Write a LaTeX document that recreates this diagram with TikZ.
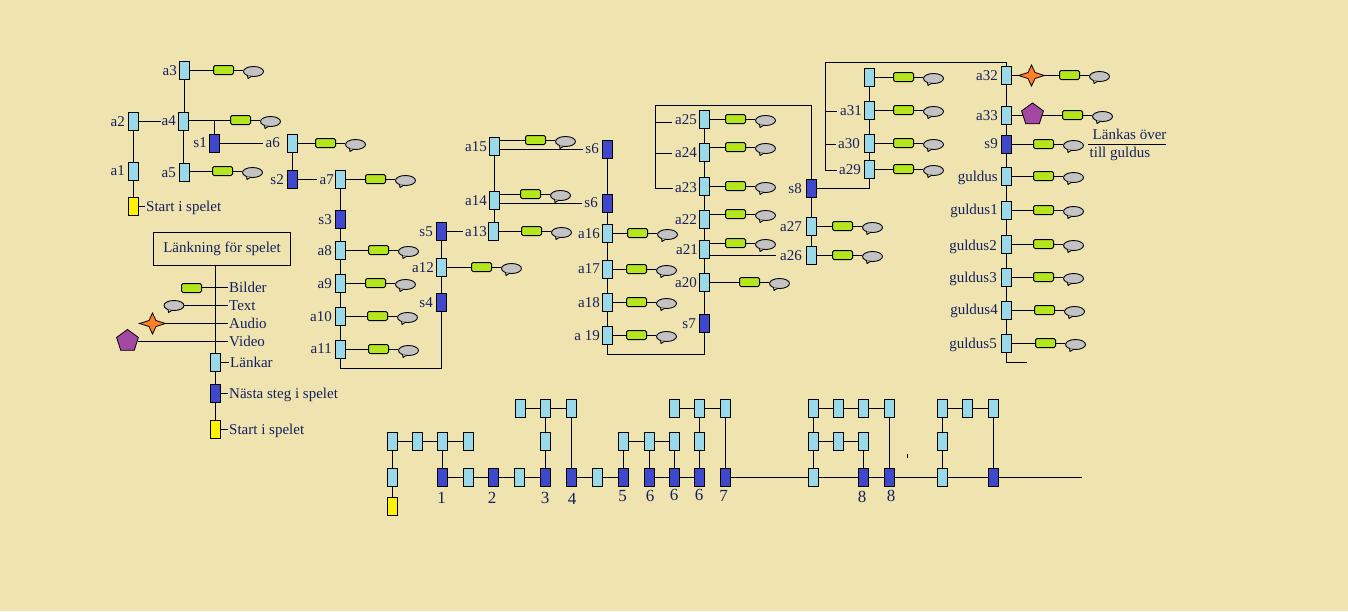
\documentclass[tikz,border=0pt]{standalone}
\usepackage{fontspec}
\setmainfont{Liberation Serif}
\usetikzlibrary{shapes.geometric}
\definecolor{bgc}{HTML}{EFE4B0}
\definecolor{lkc}{HTML}{99D9EA}
\definecolor{stc}{HTML}{3F48CC}
\definecolor{ylc}{HTML}{FFF200}
\definecolor{grc}{HTML}{B5E61D}
\definecolor{buc}{HTML}{C3C3C3}
\definecolor{orc}{HTML}{FF7F27}
\definecolor{puc}{HTML}{A349A4}
\definecolor{txc}{HTML}{14205C}
\tikzset{
  cn/.style={draw=black,line width=1pt},
  lkbase/.style={draw=black,line width=1pt,rectangle,minimum width=10pt,minimum height=18pt,inner sep=0pt},
  lk/.style={lkbase,fill=lkc},
  stb/.style={lkbase,fill=stc},
  ylb/.style={lkbase,fill=ylc},
  grn/.style={draw=black,line width=1pt,rectangle,rounded corners=1.5pt,fill=grc,minimum width=20pt,minimum height=9pt,inner sep=0pt},
  bub/.style={draw=black,line width=.9pt,ellipse,fill=buc,minimum width=20pt,minimum height=10pt,inner sep=0pt},
  bubt/.style={draw=black,line width=.9pt,fill=buc,line join=round},
  lab/.style={anchor=mid east,inner sep=0pt,yshift=-2.5pt,text=txc,font=\fontsize{15}{15}\selectfont},
  labw/.style={anchor=mid west,inner sep=0pt,yshift=-2.5pt,text=txc,font=\fontsize{15}{15}\selectfont},
  numb/.style={anchor=center,inner sep=0pt,text=txc,font=\fontsize{17}{17}\selectfont},
  penta/.style={draw=black,line width=.8pt,regular polygon,regular polygon sides=5,minimum size=23pt,inner sep=0pt,fill=puc},
  starm/.style={draw=black,line width=.8pt,fill=orc},
}
\newcommand\lkn[3]{\node[lk] (#1) at (#2,#3) {};}
\newcommand\stn[3]{\node[stb] (#1) at (#2,#3) {};}
\newcommand\lbl[4]{\node[lab] (l#1) at (#2,#3) {#4};}
\newcommand\bubtail[1]{%
  \path[bubt] ([shift={(-6,3.6)}]#1.center) -- ([shift={(-5.5,7)}]#1.center) -- ([shift={(-2,4.8)}]#1.center);
}
\newcommand\tailgb[3]{%
  \coordinate (#1l) at (#2,#3);
  \node[grn,yshift=.5pt] (#1g) at (#2,#3) {};
  \path (#1l) ++(30,1) node[bub] (#1b) {};
  \bubtail{#1b}
  \draw[cn] (#1g.east |- #1l) -- (#1b.west |- #1l);
  \draw[cn] (#1l -| #1.east) -- (#1g.west |- #1l);
}
\newcommand\starmark[3]{%
  \coordinate (#1) at (#2,#3);
  \draw[starm] (#1) ++(13,0) -- ++(-9.5,-3) -- ++(-3.5,-7.5) -- ++(-3.5,7.5) -- ++(-9.5,3) -- ++(9.5,3) -- ++(3.5,7.5) -- ++(3.5,-7.5) -- cycle;
}
\begin{document}
\begin{tikzpicture}[x=1pt,y=-1pt]
\fill[bgc] (0,0) rectangle (1348,611);
\useasboundingbox (0,0) rectangle (1348,611);

% ---- left tree
\lkn{a3}{184.5}{70.5}\lbl{a3}{177}{70.5}{a3}
\lkn{a4}{183.5}{121.5}\lbl{a4}{176}{121}{a4}
\lkn{a2}{133.5}{121.5}\lbl{a2}{125}{121.5}{a2}
\lkn{a1}{133.5}{171.5}\lbl{a1}{125}{171}{a1}
\node[ylb] (y1) at (133.5,206.5) {};
\node[labw] (ly1) at (146,206.5) {Start i spelet};
\lkn{a5}{184.5}{172.5}\lbl{a5}{176}{172.5}{a5}
\stn{s1}{214.5}{143.5}\lbl{s1}{207}{143}{s1}
\lkn{a6}{292.5}{143.5}\lbl{a6}{280}{142.5}{a6}
\stn{s2}{292.5}{179.5}\lbl{s2}{284}{179.5}{s2}
\lkn{a7}{340.5}{179.5}\lbl{a7}{334}{179.5}{a7}
\stn{s3}{340.5}{219.5}\lbl{s3}{332}{219.5}{s3}
\lkn{a8}{340.5}{250.5}\lbl{a8}{332}{250.5}{a8}
\lkn{a9}{340.5}{283.5}\lbl{a9}{332}{283.5}{a9}
\lkn{a10}{340.5}{316.5}\lbl{a10}{332}{316.5}{a10}
\lkn{a11}{340.5}{349.5}\lbl{a11}{332}{349}{a11}
\stn{s4}{441.5}{302.5}\lbl{s4}{433}{303}{s4}
\lkn{a12}{441.5}{267.5}\lbl{a12}{434}{267.5}{a12}
\stn{s5}{441.5}{231.5}\lbl{s5}{433}{231.5}{s5}
\tailgb{a3}{223.5}{70.5}
\tailgb{a4}{240.5}{120.5}
\tailgb{a5}{222.5}{171.5}
\tailgb{a6}{325.5}{143.5}
\tailgb{a7}{375.5}{179.5}
\tailgb{a8}{378.5}{250.5}
\tailgb{a9}{375.5}{283.5}
\tailgb{a10}{377.5}{316.5}
\tailgb{a11}{378.5}{349.5}
\tailgb{a12}{481.5}{267.5}
\draw[cn] (a3) -- (a3 |- a4.north);
\draw[cn] (a4 |- a4.south) -- (a4 |- a5.north);
\draw[cn] (a2.east) -- (la4.west |- a2.east);
\draw[cn] (a2) -- (a1);
\draw[cn] (a1) -- (y1);
\draw[cn] (y1.east) -- ([xshift=-1pt]ly1.west |- y1.east);
\draw[cn] (s1.north) -- (s1 |- a4l);
\draw[cn] (s1.east) -- ([xshift=-2pt]la6.west |- s1.east);
\draw[cn] (a6) -- (s2);
\draw[cn] (s2.east) -- ([xshift=-2pt]la7.west |- s2.east);
\draw[cn] (a7) -- (s3);
\draw[cn] (s3) -- (a8);
\draw[cn] (a8) -- (a9);
\draw[cn] (a9) -- (a10);
\draw[cn] (a10) -- (a11);
\draw[cn] (a11.south) |- (441.5,368.5) -- (s4.south);
\draw[cn] (s4) -- (a12);
\draw[cn] (a12) -- (s5);

% ---- legend
\node[draw=black,line width=1pt,minimum width=137pt,minimum height=33pt,inner sep=0pt,text=txc,font=\fontsize{15}{15}\selectfont] (leg) at (222,249) {Länkning för spelet};
\node[lk] (legl) at (215.5,362.5) {};
\node[stb] (legn) at (215.5,393.5) {};
\node[ylb] (legy) at (215.5,429.5) {};
\node[labw] (tb) at (229,287.5) {Bilder};
\node[labw] (tt) at (229,305.5) {Text};
\node[labw] (ta) at (229,323.5) {Audio};
\node[labw] (tv) at (229,341.5) {Video};
\node[labw] (tl) at (230,362.5) {Länkar};
\node[labw] (tn) at (229,393.5) {Nästa steg i spelet};
\node[labw] (ty) at (229,429.5) {Start i spelet};
\draw[cn] (legl |- leg.south) -- (legl.north);
\draw[cn] (legl) -- (legn);
\draw[cn] (legn) -- (legy);
\coordinate (cb) at (202,287.5);
\coordinate (ct) at (184,305.5);
\coordinate (ca) at (160,323.5);
\coordinate (cv) at (138,341.5);
\draw[cn] (cb) -- ([xshift=-1pt]tb.west |- cb);
\draw[cn] (ct) -- ([xshift=-1pt]tt.west |- ct);
\draw[cn] (ca) -- ([xshift=-1pt]ta.west |- ca);
\draw[cn] (cv) -- ([xshift=-1pt]tv.west |- cv);
\node[grn] (lgg) at (191.5,288) {};
\node[bub] (lgb) at (174,305.5) {};
\bubtail{lgb}
\starmark{lgs}{152.5}{323.5}
\node[penta] (lgp) at (127.5,341) {};
\draw[cn] (legl.east) -- ([xshift=-1pt]tl.west |- legl.east);
\draw[cn] (legn.east) -- ([xshift=-1pt]tn.west |- legn.east);
\draw[cn] (legy.east) -- ([xshift=-1pt]ty.west |- legy.east);

% ---- middle group
\lkn{a15}{494.5}{146.5}\lbl{a15}{487}{146.5}{a15}
\lkn{a14}{494.5}{200.5}\lbl{a14}{487}{200.5}{a14}
\lkn{a13}{493.5}{231.5}\lbl{a13}{487}{231.5}{a13}
\stn{s6a}{607.5}{149.5}\lbl{s6a}{599}{149}{s6}
\stn{s6b}{607.5}{203.5}\lbl{s6b}{598}{203}{s6}
\lkn{a16}{607.5}{233.5}\lbl{a16}{600}{233.5}{a16}
\lkn{a17}{607.5}{269.5}\lbl{a17}{600}{269}{a17}
\lkn{a18}{607.5}{302.5}\lbl{a18}{600}{302.5}{a18}
\lkn{a19}{607.5}{335.5}\lbl{a19}{600}{335.5}{a 19}
\tailgb{a15}{535.5}{140.5}
\tailgb{a14}{530.5}{194.5}
\tailgb{a13}{531.5}{231.5}
\tailgb{a16}{637.5}{233.5}
\tailgb{a17}{636.5}{269.5}
\tailgb{a18}{636.5}{302.5}
\tailgb{a19}{636.5}{335.5}
\draw[cn] (a15.east |- s6a) -- ([xshift=-2pt]ls6a.west |- s6a);
\draw[cn] (a14.east |- s6b) -- ([xshift=-2pt]ls6b.west |- s6b);
\draw[cn] (a15) -- (a14);
\draw[cn] (a14) -- (a14 |- a13.north);
\draw[cn] (s5.east) -- ([xshift=-2pt]la13.west |- s5.east);
\draw[cn] (s6a) -- (s6b);
\draw[cn] (s6b) -- (a16);
\draw[cn] (a16) -- (a17);
\draw[cn] (a17) -- (a18);
\draw[cn] (a18) -- (a19);

% ---- a20..a25
\lkn{a25}{704.5}{119.5}\lbl{a25}{697}{119.5}{a25}
\lkn{a24}{704.5}{152.5}\lbl{a24}{697}{152.5}{a24}
\lkn{a23}{704.5}{186.5}\lbl{a23}{697}{188}{a23}
\lkn{a22}{704.5}{219.5}\lbl{a22}{697}{219.5}{a22}
\lkn{a21}{704.5}{249.5}\lbl{a21}{698}{249.5}{a21}
\lkn{a20}{704.5}{282.5}\lbl{a20}{697}{282.5}{a20}
\stn{s7}{704.5}{323.5}\lbl{s7}{696}{323.5}{s7}
\tailgb{a25}{735.5}{119.5}
\tailgb{a24}{735.5}{147.5}
\tailgb{a23}{735.5}{186.5}
\tailgb{a22}{735.5}{214.5}
\tailgb{a21}{735.5}{243.5}
\tailgb{a20}{749.5}{282.5}
\draw[cn] (a25) -- (a24);
\draw[cn] (a24) -- (a23);
\draw[cn] (a23) -- (a22);
\draw[cn] (a22) -- (a21);
\draw[cn] (a21) -- (a20);
\draw[cn] (a20) -- (s7);
\draw[cn] (a19.south) |- (704.5,354.5) -- (s7.south);

% ---- s8 group
\stn{s8}{811.5}{188.5}\lbl{s8}{802}{189}{s8}
\lkn{a27}{811.5}{226.5}\lbl{a27}{802}{226.5}{a27}
\lkn{a26}{811.5}{255.5}\lbl{a26}{802}{255.5}{a26}
\tailgb{a27}{842.5}{226.5}
\tailgb{a26}{842.5}{255.5}
\draw[cn] (s8) -- (a27);
\draw[cn] (a27) -- (a26);
\draw[cn] (a21.east |- a26) -- ([xshift=-4pt]la26.west |- a26);
\draw[cn] (s8.north) -- (811.5,105.5) -- (655.5,105.5) -- (655.5,188.5) -- ([xshift=-2pt]la23.west |- 0,188.5);
\draw[cn] (655.5,122.5) -- ([xshift=-3pt]la25.west |- 0,122.5);
\draw[cn] (655.5,153.5) -- ([xshift=-3pt]la24.west |- 0,153.5);

\lkn{a29}{869.5}{169.5}\lbl{a29}{861}{169.5}{a29}
\lkn{a30}{869.5}{143.5}\lbl{a30}{860}{144}{a30}
\lkn{a31}{869.5}{110.5}\lbl{a31}{862}{110.5}{a31}
\lkn{topb}{869.5}{77.5}
\tailgb{a29}{903.5}{169.5}
\tailgb{a30}{903.5}{143.5}
\tailgb{a31}{903.5}{110.5}
\tailgb{topb}{903.5}{77.5}
\draw[cn] (s8.east) -| (a29.south);
\draw[cn] (a29) -- (a30);
\draw[cn] (a30) -- (a31);
\draw[cn] (a31) -- (topb);

% ---- right column
\lkn{a32}{1006.5}{75.5}\lbl{a32}{998}{75.5}{a32}
\lkn{a33}{1006.5}{115.5}\lbl{a33}{998}{115.5}{a33}
\stn{s9}{1006.5}{144.5}\lbl{s9}{998}{144}{s9}
\lkn{g0}{1006.5}{176.5}\lbl{g0}{998}{176.5}{guldus}
\lkn{g1}{1006.5}{210.5}\lbl{g1}{998}{209.5}{guldus1}
\lkn{g2}{1006.5}{244.5}\lbl{g2}{997}{245.5}{guldus2}
\lkn{g3}{1006.5}{277.5}\lbl{g3}{997}{277.5}{guldus3}
\lkn{g4}{1006.5}{310.5}\lbl{g4}{998}{310}{guldus4}
\lkn{g5}{1006.5}{343.5}\lbl{g5}{997}{343.5}{guldus5}
\tailgb{a32}{1069.5}{75.5}
\tailgb{a33}{1072.5}{115.5}
\tailgb{s9}{1043.5}{144.5}
\tailgb{g0}{1043.5}{176.5}
\tailgb{g1}{1043.5}{210.5}
\tailgb{g2}{1043.5}{244.5}
\tailgb{g3}{1043.5}{277.5}
\tailgb{g4}{1044.5}{310.5}
\tailgb{g5}{1045.5}{343.5}
\starmark{rs}{1031.5}{75.5}
\node[penta] (rp) at (1032.5,114.5) {};
\draw[cn] (a32) -- (a33);
\draw[cn] (a33) -- (s9);
\draw[cn] (s9) -- (g0);
\draw[cn] (g0) -- (g1);
\draw[cn] (g1) -- (g2);
\draw[cn] (g2) -- (g3);
\draw[cn] (g3) -- (g4);
\draw[cn] (g4) -- (g5);
\draw[cn] (g5.south) -- (1006.5,362.5) -- (1027,362.5);
\draw[cn] (a32.north) -- (1006.5,62.5) -- (825.5,62.5) -- (825.5,170.5) -- ([xshift=-2pt]la29.west |- 0,170.5);
\draw[cn] (825.5,111.5) -- ([xshift=-3pt]la31.west |- 0,111.5);
\draw[cn] (825.5,144.5) -- ([xshift=-2pt]la30.west |- 0,144.5);
\node[labw] (lo) at (1092.5,135) {Länkas över};
\node[labw] (lt) at (1089.5,153) {till guldus};
\draw[cn] (1088,144.5) -- (1166,144.5);

% ---- bottom strip
\node[ylb] (yb) at (392.5,506.5) {};
\foreach \c in {520,545,571,674,699,725,813,838,863,889,942,967,993}{\node[lk] (t\c) at (\c.5,408.5) {};}
\foreach \c in {392,417,442,468,545,623,649,674,699,813,838,863,942}{\node[lk] (m\c) at (\c.5,441.5) {};}
\foreach \c in {392,468,519,597,813,942}{\node[lk] (r\c) at (\c.5,477.5) {};}
\foreach \c in {442,493,545,571,623,649,674,699,725,863,889,993}{\node[stb] (r\c) at (\c.5,477.5) {};}
\coordinate (rend) at (1081.5,477.5);
\foreach \p/\q in {yb/r392,r392/m392,m392/m417,m417/m442,m442/m468,m442/r442,r442/r468,r468/r493,r493/r519,r519/r545,r545/m545,m545/t545,t520/t545,t545/t571,t571/r571,r571/r597,r597/r623,r623/m623,m623/m649,m649/m674,m649/r649,m674/r674,r649/r674,r674/r699,r699/m699,m699/t699,t674/t699,t699/t725,t725/r725,r725/r813,r813/m813,m813/t813,t813/t838,t838/t863,t863/t889,m813/m838,m838/m863,m863/r863,r813/r863,r863/r889,t889/r889,r889/r942,r942/m942,m942/t942,t942/t967,t967/t993,t993/r993,r942/r993,r993/rend}{\draw[cn] (\p) -- (\q);}
\node[numb] (n1) at (441.5,498) {1};
\node[numb] (n2) at (492,498) {2};
\node[numb] (n3) at (545,498) {3};
\node[numb] (n4) at (572,498.5) {4};
\node[numb] (n5) at (622.5,496) {5};
\node[numb] (n6a) at (650,496) {6};
\node[numb] (n6b) at (674,495) {6};
\node[numb] (n6c) at (699,495) {6};
\node[numb] (n7) at (723.5,496) {7};
\node[numb] (n8a) at (862,497) {8};
\node[numb] (n8b) at (891,496) {8};
\draw[black,line width=.8pt] (907.5,454) -- (907.5,458);
\end{tikzpicture}
\end{document}
